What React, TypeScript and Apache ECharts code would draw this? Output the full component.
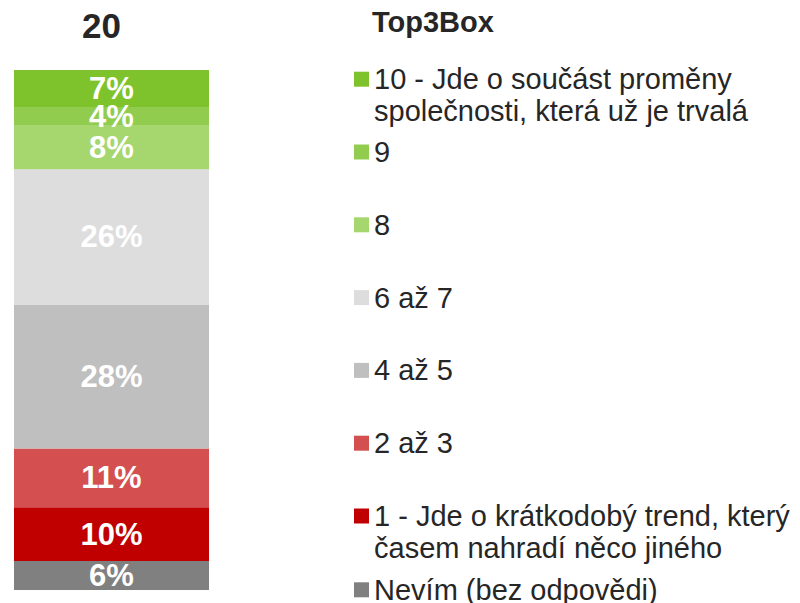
import React, { useEffect, useRef } from 'react';
import * as echarts from 'echarts';

const categories = ['20'];
const legendTitle = 'Top3Box';
const seriesNames = [
  '10 - Jde o součást proměny\nspolečnosti, která už je trvalá',
  '9',
  '8',
  '6 až 7',
  '4 až 5',
  '2 až 3',
  '1 - Jde o krátkodobý trend, který\nčasem nahradí něco jiného',
  'Nevím (bez odpovědi)',
];
const seriesValues = [7.1, 3.6, 8.4, 26.0, 27.7, 11.3, 10.3, 5.6];
const seriesColors = ['#7FC32C', '#92CC4E', '#A6D66E', '#DDDDDD', '#BFBFBF', '#D45050', '#C00000', '#808080'];

const FONT = '"Liberation Sans", Arial, sans-serif';

export default function App() {
  const ref = useRef<HTMLDivElement>(null);
  useEffect(() => {
    if (!ref.current) return;
    const chart = echarts.init(ref.current, undefined, { renderer: 'svg' });
    const markerStart = 71.7;
    const markerStep = 72.8;
    const legends = seriesNames.map((name, i) => {
      const twoLine = name.includes('\n');
      const markerTop = markerStart + markerStep * i + (i === 7 ? 1 : 0);
      return {
        orient: 'vertical',
        left: 354,
        top: markerTop - (twoLine ? 40.5 : 7.5),
        padding: 0,
        itemWidth: 15,
        itemHeight: 15,
        icon: 'rect',
        selectedMode: false,
        data: [name],
        formatter: (n: string) => (n.includes('\n') ? ' \n' + n : n),
        textStyle: {
          fontFamily: FONT,
          fontSize: 29,
          color: '#262626',
          lineHeight: twoLine ? 32 : 30,
        },
      };
    });
    const series = seriesNames
      .map((name, i) => ({
        name,
        type: 'bar',
        stack: 'total',
        barWidth: '100%',
        data: [seriesValues[i]],
        itemStyle: { color: seriesColors[i] },
        label: {
          show: true,
          position: 'inside',
          formatter: (p: any) => Math.round(p.value) + '%',
          color: '#FFFFFF',
          fontFamily: FONT,
          fontWeight: 'bold',
          fontSize: 31,
        },
      }))
      .reverse();
    chart.setOption({
      animation: false,
      title: {
        text: legendTitle,
        left: 367,
        top: 2,
        textStyle: { fontFamily: FONT, fontWeight: 'bold', fontSize: 29, color: '#262626' },
      },
      legend: legends,
      grid: { left: 14, width: 195, top: 70, bottom: 13, containLabel: false },
      xAxis: {
        type: 'category',
        data: categories,
        position: 'top',
        axisLine: { show: false },
        axisTick: { show: false },
        axisLabel: {
          fontFamily: FONT,
          fontWeight: 'bold',
          fontSize: 35,
          color: '#262626',
          margin: 27,
          padding: [0, 20, 0, 0],
        },
      },
      yAxis: { type: 'value', min: 0, max: 100, show: false },
      series,
    });
    return () => chart.dispose();
  }, []);
  return <div ref={ref} style={{ width: 800, height: 603, position: 'absolute', left: 0, top: 0 }} />;
}
